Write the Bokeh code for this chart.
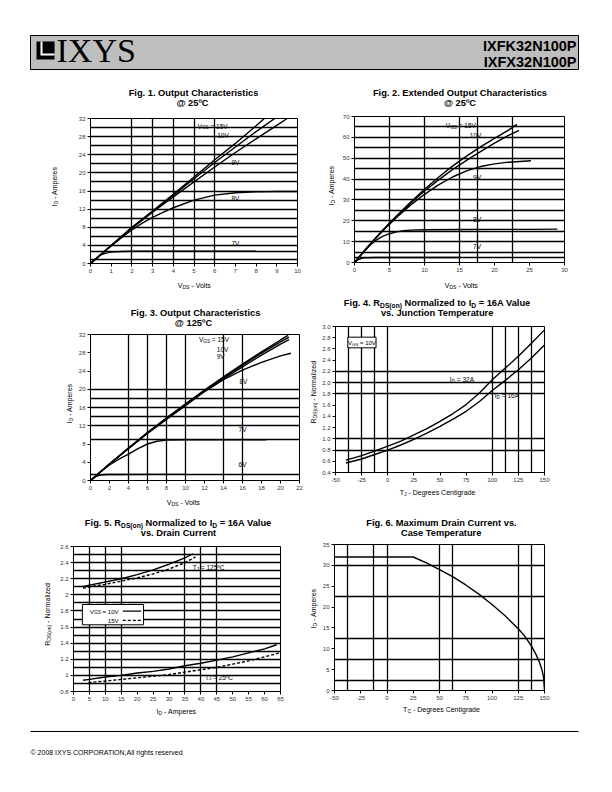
import math
from bokeh.plotting import figure
from bokeh.layouts import column, row
from bokeh.models import Range1d, FixedTicker, Label, BoxAnnotation
from bokeh.embed import file_html
from bokeh.resources import INLINE

FONT = "Liberation Sans"
SERIF = "Liberation Serif"

# ---------------- DATA ----------------
# Fig. 1  Output characteristics @ 25C
F1_X_TICKS = [0, 1, 2, 3, 4, 5, 6, 7, 8, 9, 10]
F1_Y_TICKS = [0, 4, 8, 12, 16, 20, 24, 28, 32]
F1_GRID_X = [2, 3, 4, 5, 6]
F1_GRID_Y = [0.9, 2.7, 4, 6, 8, 10, 12, 14, 16, 18, 20, 22, 24, 26, 28, 30]
F1_VDS_15V = [0, 1, 2, 3, 4, 5, 6, 7, 8, 8.4]
F1_ID_15V = [0, 4.0, 8.0, 11.6, 15.3, 19.1, 22.9, 26.5, 30.4, 32]
F1_VDS_10V = [0, 1, 2, 3, 4, 5, 6, 7, 8, 8.9]
F1_ID_10V = [0, 3.95, 7.9, 11.5, 15.1, 18.7, 22.3, 25.7, 29.1, 32]
F1_VDS_9V = [0, 1, 2, 3, 4, 5, 6, 7, 8, 9, 9.5]
F1_ID_9V = [0, 3.9, 7.8, 11.3, 14.7, 18.0, 21.3, 24.5, 27.5, 30.5, 32]
F1_VDS_8V = [0, 0.5, 1, 1.5, 2, 2.5, 3, 3.5, 4, 5, 6, 7, 8, 9, 10]
F1_ID_8V = [0, 2.0, 3.9, 5.7, 7.4, 8.9, 10.2, 11.3, 12.3, 14.0, 15.1, 15.6, 15.8, 15.9, 15.9]
F1_VDS_7V = [0, 0.25, 0.5, 0.75, 1, 1.5, 2, 3, 4, 6, 8]
F1_ID_7V = [0, 1.1, 1.9, 2.3, 2.5, 2.65, 2.7, 2.7, 2.7, 2.7, 2.7]

# Fig. 2  Extended output characteristics @ 25C
F2_X_TICKS = [0, 5, 10, 15, 20, 25, 30]
F2_Y_TICKS = [0, 10, 20, 30, 40, 50, 60, 70]
F2_GRID_X = [5, 10, 15, 17.5, 22.5]
F2_GRID_Y = [2.5, 5, 10, 15, 20, 25, 30, 35, 40, 45, 50, 55, 60, 65]
F2_VDS_15V = [0, 1, 2, 3, 4, 5, 6, 8, 10, 12, 14, 16, 18, 20, 22, 23.2]
F2_ID_15V = [0, 4.0, 7.9, 11.7, 15.3, 18.9, 22.3, 28.9, 35.1, 40.9, 46.2, 51.0, 55.4, 59.5, 63.5, 66.2]
F2_VDS_10V = [0, 1, 2, 3, 4, 5, 6, 8, 10, 12, 14, 16, 18, 20, 22, 23.5]
F2_ID_10V = [0, 4.0, 7.9, 11.6, 15.2, 18.7, 22.0, 28.4, 34.3, 39.6, 44.5, 49.0, 53.2, 57.2, 61.0, 63.3]
F2_VDS_9V = [0, 1, 2, 3, 4, 5, 6, 8, 10, 12, 14, 16, 18, 20, 22, 25.2]
F2_ID_9V = [0, 3.9, 7.8, 11.5, 15.0, 18.4, 21.6, 27.5, 32.7, 37.2, 41.0, 43.9, 46.0, 47.3, 48.1, 48.8]
F2_VDS_8V = [0, 1, 2, 2.5, 3, 4, 5, 6, 7, 8, 10, 15, 20, 25, 29]
F2_ID_8V = [0, 3.9, 7.5, 9.1, 10.5, 12.5, 13.8, 14.7, 15.2, 15.5, 15.7, 15.8, 15.9, 15.9, 16.0]
F2_VDS_7V = [0, 0.5, 1, 1.5, 2, 3, 5, 10, 15.2]
F2_ID_7V = [0, 1.3, 2.0, 2.2, 2.3, 2.4, 2.4, 2.4, 2.4]

# Fig. 3  Output characteristics @ 125C
F3_X_TICKS = [0, 2, 4, 6, 8, 10, 12, 14, 16, 18, 20, 22]
F3_Y_TICKS = [0, 4, 8, 12, 16, 20, 24, 28, 32]
F3_GRID_X = [4, 6, 8, 10, 14, 16]
F3_GRID_Y = [1.3, 8.9, 12, 14, 16, 18, 20]
F3_VDS_15V = [0, 2, 4, 6, 8, 10, 12, 14, 16, 18, 20, 20.8]
F3_ID_15V = [0, 3.6, 7.1, 10.5, 13.7, 16.8, 19.8, 22.7, 25.5, 28.2, 30.8, 31.8]
F3_VDS_10V = [0, 2, 4, 6, 8, 10, 12, 14, 16, 18, 20, 20.9]
F3_ID_10V = [0, 3.6, 7.1, 10.5, 13.7, 16.7, 19.7, 22.5, 25.3, 27.9, 30.4, 31.4]
F3_VDS_9V = [0, 2, 4, 6, 8, 10, 12, 14, 16, 18, 20, 20.9]
F3_ID_9V = [0, 3.6, 7.0, 10.4, 13.6, 16.6, 19.5, 22.3, 24.9, 27.5, 29.9, 30.9]
F3_VDS_8V = [0, 2, 4, 6, 8, 10, 12, 14, 16, 18, 20, 21.1]
F3_ID_8V = [0, 3.6, 7.0, 10.3, 13.4, 16.4, 19.5, 22.1, 24.2, 25.9, 27.3, 27.9]
F3_VDS_7V = [0, 1, 2, 3, 4, 5, 6, 7, 8, 10, 14, 18.5]
F3_ID_7V = [0, 1.8, 3.4, 4.7, 5.8, 7.0, 8.0, 8.6, 8.85, 8.9, 8.9, 8.9]
F3_VDS_6V = [0, 0.5, 1, 1.7, 3, 6, 10]
F3_ID_6V = [0, 0.8, 1.2, 1.3, 1.33, 1.35, 1.35]

# Fig. 4  RDS(on) normalized vs junction temperature
F4_X_TICKS = [-50, -25, 0, 25, 50, 75, 100, 125, 150]
F4_Y_TICKS = [0.4, 0.6, 0.8, 1.0, 1.2, 1.4, 1.6, 1.8, 2.0, 2.2, 2.4, 2.6, 2.8, 3.0]
F4_Y_LABELS = ["0.4", "0.6", "0.8", "1.0", "1.2", "1.4", "1.6", "1.8", "2.0", "2.2", "2.4", "2.6", "2.8", "3.0"]
F4_GRID_X = [-37.5, -25, -12.5, 0, 100, 112.5, 125, 137.5]
F4_GRID_Y = [0.8, 1.0, 1.8, 2.0, 2.2]
F4_TJ = [-40, -25, -12.5, 0, 12.5, 25, 37.5, 50, 62.5, 75, 87.5, 100, 112.5, 125, 137.5, 150]
F4_R_32A = [0.62, 0.70, 0.78, 0.87, 0.96, 1.07, 1.18, 1.31, 1.45, 1.61, 1.81, 2.05, 2.26, 2.47, 2.70, 2.94]
F4_R_16A = [0.57, 0.64, 0.72, 0.80, 0.89, 0.99, 1.10, 1.22, 1.35, 1.49, 1.66, 1.86, 2.04, 2.23, 2.44, 2.67]

# Fig. 5  RDS(on) normalized vs drain current
F5_X_TICKS = [0, 5, 10, 15, 20, 25, 30, 35, 40, 45, 50, 55, 60, 65]
F5_Y_TICKS = [0.8, 1.0, 1.2, 1.4, 1.6, 1.8, 2.0, 2.2, 2.4, 2.6]
F5_Y_LABELS = ["0.8", "1", "1.2", "1.4", "1.6", "1.8", "2", "2.2", "2.4", "2.6"]
F5_GRID_X = [5, 10, 15, 35, 40, 45]
F5_GRID_Y = [0.9, 1.0, 1.1, 1.2, 1.3, 1.4, 1.5, 1.6, 1.7, 1.8, 1.9, 2.0, 2.1, 2.2, 2.3, 2.4, 2.5]
F5_ID_125_10V = [3, 5, 10, 15, 20, 25, 30, 35, 37.5]
F5_R_125_10V = [2.10, 2.12, 2.16, 2.20, 2.25, 2.31, 2.38, 2.46, 2.51]
F5_ID_125_15V = [3, 5, 10, 15, 20, 25, 30, 35, 38.3]
F5_R_125_15V = [2.08, 2.10, 2.13, 2.17, 2.21, 2.26, 2.32, 2.40, 2.47]
F5_ID_25_10V = [3, 5, 10, 15, 20, 25, 30, 35, 40, 45, 50, 55, 60, 63.8]
F5_R_25_10V = [0.94, 0.95, 0.98, 1.00, 1.03, 1.05, 1.08, 1.12, 1.15, 1.19, 1.23, 1.28, 1.33, 1.38]
F5_ID_25_15V = [4.7, 10, 15, 20, 25, 30, 35, 40, 45, 50, 55, 60, 64.8]
F5_R_25_15V = [0.91, 0.93, 0.95, 0.97, 0.99, 1.01, 1.04, 1.07, 1.10, 1.14, 1.18, 1.23, 1.28]

# Fig. 6  Maximum drain current vs case temperature
F6_X_TICKS = [-50, -25, 0, 25, 50, 75, 100, 125, 150]
F6_Y_TICKS = [0, 5, 10, 15, 20, 25, 30, 35]
F6_GRID_X = [-37.5, -12.5, 0, 50, 62.5, 125, 137.5]
F6_GRID_Y = [2.5, 7.5, 12.5, 22.5, 30]
F6_TC = [-50, 25, 37.5, 50, 62.5, 75, 87.5, 100, 112.5, 125, 131, 137.5, 142, 145, 147.5, 149, 150]
F6_ID = [32, 32, 30.6, 29.0, 27.3, 25.3, 23.1, 20.6, 17.9, 14.8, 13.1, 10.7, 8.6, 6.9, 5.0, 3.4, 0]

# ---------------- TEXT HELPERS ----------------
_REG = {' ': 278, '!': 278, '(': 333, ')': 333, '-': 333, '.': 278, ',': 278, '=': 584, '@': 1015,
        '\u00a9': 737, '\u00ba': 365, 'A': 667, 'B': 667, 'C': 722, 'D': 722, 'E': 667, 'F': 611,
        'G': 778, 'H': 722, 'I': 278, 'J': 500, 'K': 667, 'L': 556, 'M': 833, 'N': 722, 'O': 778,
        'P': 667, 'R': 722, 'S': 667, 'T': 611, 'U': 722, 'V': 667, 'X': 667, 'Y': 667,
        'a': 556, 'b': 556, 'c': 500, 'd': 556, 'e': 556, 'f': 278, 'g': 556, 'h': 556, 'i': 222,
        'j': 222, 'k': 500, 'l': 222, 'm': 833, 'n': 556, 'o': 556, 'p': 556, 'r': 333, 's': 500,
        't': 278, 'u': 556, 'v': 500, 'x': 500, 'y': 500, 'z': 500}
_BOLD = {' ': 278, '(': 333, ')': 333, '-': 333, '.': 278, ',': 278, '=': 584, '@': 975, '\u00ba': 365,
         'A': 722, 'C': 722, 'D': 722, 'E': 667, 'F': 611, 'I': 278, 'J': 556, 'K': 722, 'M': 833,
         'N': 722, 'O': 778, 'P': 667, 'R': 722, 'S': 667, 'T': 611, 'V': 667, 'X': 667,
         'a': 556, 'b': 611, 'c': 556, 'd': 611, 'e': 556, 'f': 333, 'g': 611, 'h': 611, 'i': 278,
         'l': 278, 'm': 889, 'n': 611, 'o': 611, 'p': 611, 'r': 389, 's': 556, 't': 333, 'u': 611,
         'v': 556, 'x': 556, 'y': 556, 'z': 500}
SUB = 0.72


def tw(s, size, bold):
    tab = _BOLD if bold else _REG
    return sum(tab.get(c, 556) for c in s) * size / 1000.0


def rich(p, x, y, ox, oy, segs, fs, bold=False, align="center", angle=0.0, bg=None, color="black"):
    """Text run with subscripts; (x, y) + pixel offsets (ox, oy) is the visual centre of the run."""
    sizes = [fs * SUB if s else fs for _, s in segs]
    ws = [tw(t, sz, bold) for (t, _), sz in zip(segs, sizes)]
    total = sum(ws)
    pos = {"center": -total / 2.0, "left": 0.0, "right": -total}[align]
    pieces = []
    for (t, s), sz, w in zip(segs, sizes, ws):
        lead = len(t) - len(t.lstrip(" "))
        start = pos + tw(" " * lead, sz, bold)
        drop = 0.25 * fs if s else 0.0
        if angle == 0:
            dx, dy = start, -drop
        else:
            dx, dy = drop, start
        pieces.append((t.strip(" "), sz, ox + dx, oy + dy))
        pos += w
    common = dict(x=x, y=y, angle=angle, text_font=FONT, text_font_style="bold" if bold else "normal",
                  text_align="left", text_baseline="alphabetic")
    if bg:
        for t, sz, dx, dy in pieces:
            p.add_layout(Label(text=t, text_font_size=f"{sz:.2f}px", x_offset=dx, y_offset=dy,
                               text_alpha=0.0, background_fill_color=bg, padding=2, **common))
    for t, sz, dx, dy in pieces:
        p.add_layout(Label(text=t, text_font_size=f"{sz:.2f}px", x_offset=dx, y_offset=dy,
                           text_color=color, **common))


def textfig(x0, y0, w, h):
    """Blank panel whose data coordinates are page pixels (y downwards)."""
    f = figure(width=int(w), height=int(h), x_range=Range1d(x0, x0 + w), y_range=Range1d(y0 + h, y0),
               output_backend="svg", toolbar_location=None, min_border=0,
               x_axis_type=None, y_axis_type=None)
    f.outline_line_color = None
    f.background_fill_color = "white"
    f.border_fill_color = "white"
    return f


def cell(x0, y0, W, H, fr, ls, bs, tp, xr, yr, xt, xl, yt, yl, gx, gy):
    fl, ft, fw, fh = fr
    tfig = textfig(x0, y0, W, ft - tp - y0)
    yfig = textfig(x0, ft - tp, fl - ls - x0, tp + fh + bs)
    p = figure(width=W - (fl - ls - x0), height=tp + fh + bs, x_range=Range1d(*xr), y_range=Range1d(*yr),
               output_backend="svg", toolbar_location=None,
               min_border_left=ls, min_border_right=x0 + W - (fl + fw), min_border_top=tp,
               min_border_bottom=bs)
    p.outline_line_color = "black"
    p.outline_line_width = 1
    p.background_fill_color = "white"
    p.border_fill_color = "white"
    for ax, ticks, labs in ((p.xaxis[0], xt, xl), (p.yaxis[0], yt, yl)):
        ax.ticker = FixedTicker(ticks=list(ticks))
        ax.major_label_overrides = {float(k): str(s) for k, s in zip(ticks, labs)}
        ax.major_label_text_font = FONT
        ax.major_label_text_font_size = "6px"
        ax.major_label_text_color = "#333333"
        ax.axis_line_color = "black"
        ax.major_tick_line_color = "black"
        ax.major_tick_in = 0
        ax.major_tick_out = 3
        ax.minor_tick_line_color = None
        ax.major_label_standoff = 2
    p.xgrid[0].ticker = FixedTicker(ticks=list(gx))
    p.ygrid[0].ticker = FixedTicker(ticks=list(gy))
    for g in (p.xgrid[0], p.ygrid[0]):
        g.grid_line_color = "black"
        g.grid_line_width = 1.3
    xfig = textfig(x0, ft + fh + bs, W, y0 + H - (ft + fh + bs))
    lay = column(tfig, row(yfig, p), xfig)
    return p, tfig, yfig, xfig, lay


def curve(p, xs, ys, dash="solid"):
    p.line(xs, ys, line_color="black", line_width=1.4, line_dash=dash)


ID_LBL = [("I", 0), ("D", 1), (" - Amperes", 0)]
VDS_LBL = [("V", 0), ("DS", 1), (" - Volts", 0)]
RDS_LBL = [("R", 0), ("DS(on)", 1), (" - Normalized", 0)]
TJ_LBL = [("T", 0), ("J", 1), (" - Degrees Centigrade", 0)]
TC_LBL = [("T", 0), ("C", 1), (" - Degrees Centigrade", 0)]
VGS15 = [("V", 0), ("GS", 1), (" = 15V", 0)]
VGS10 = [("V", 0), ("GS", 1), (" = 10V", 0)]
TFS = 9.3
LFS = 7.0
IFS = 6.5
PI2 = math.pi / 2

# ---------------- FIG 1 ----------------
p1, t1, y1, x1, c1 = cell(8, 78, 298, 217, (89, 118, 208, 145), 14, 13, 4, (0, 10), (0, 32),
                          F1_X_TICKS, F1_X_TICKS, F1_Y_TICKS, F1_Y_TICKS, F1_GRID_X, F1_GRID_Y)
for xs, ys in ((F1_VDS_15V, F1_ID_15V), (F1_VDS_10V, F1_ID_10V), (F1_VDS_9V, F1_ID_9V),
               (F1_VDS_8V, F1_ID_8V), (F1_VDS_7V, F1_ID_7V)):
    curve(p1, xs, ys)
for segs, x, y in ((VGS15, 5.9, 30), ([("10V", 0)], 6.4, 28), ([("9V", 0)], 7.0, 22),
                   ([("8V", 0)], 7.0, 14), ([("7V", 0)], 7.0, 4)):
    rich(p1, x, y, 0, 1.5, segs, IFS, bg="white")
rich(t1, 193, 92.7, 0, 0, [("Fig. 1. Output Characteristics", 0)], TFS, bold=True)
rich(t1, 192, 102.7, 0, 0, [("@ 25\u00baC", 0)], TFS, bold=True)
rich(x1, 194, 285, 0, 0, VDS_LBL, LFS)
rich(y1, 54, 190, 0, 0, ID_LBL, LFS, angle=PI2)

# ---------------- FIG 2 ----------------
p2, t2, y2, x2, c2 = cell(306, 78, 298, 217, (354, 116, 210, 146), 17, 13, 4, (0, 30), (0, 70),
                          F2_X_TICKS, F2_X_TICKS, F2_Y_TICKS, F2_Y_TICKS, F2_GRID_X, F2_GRID_Y)
for xs, ys in ((F2_VDS_15V, F2_ID_15V), (F2_VDS_10V, F2_ID_10V), (F2_VDS_9V, F2_ID_9V),
               (F2_VDS_8V, F2_ID_8V), (F2_VDS_7V, F2_ID_7V)):
    curve(p2, xs, ys)
for segs, x, y in ((VGS15, 15.2, 65), ([("10V", 0)], 17.3, 60), ([("9V", 0)], 17.5, 40),
                   ([("8V", 0)], 17.5, 20), ([("7V", 0)], 17.5, 7)):
    rich(p2, x, y, 0, 1.5, segs, IFS, bg="white")
rich(t2, 459.5, 92.7, 0, 0, [("Fig. 2. Extended Output Characteristics", 0)], TFS, bold=True)
rich(t2, 459.5, 102.7, 0, 0, [("@ 25\u00baC", 0)], TFS, bold=True)
rich(x2, 461, 285, 0, 0, VDS_LBL, LFS)
rich(y2, 331, 189, 0, 0, ID_LBL, LFS, angle=PI2)

# ---------------- FIG 3 ----------------
p3, t3, y3, x3, c3 = cell(8, 295, 298, 215, (89, 334, 210, 146), 14, 13, 4, (0, 22), (0, 32),
                          F3_X_TICKS, F3_X_TICKS, F3_Y_TICKS, F3_Y_TICKS, F3_GRID_X, F3_GRID_Y)
for xs, ys in ((F3_VDS_15V, F3_ID_15V), (F3_VDS_10V, F3_ID_10V), (F3_VDS_9V, F3_ID_9V),
               (F3_VDS_8V, F3_ID_8V), (F3_VDS_7V, F3_ID_7V), (F3_VDS_6V, F3_ID_6V)):
    curve(p3, xs, ys)
for segs, x, y in ((VGS15, 13.0, 30.9), ([("10V", 0)], 13.9, 28.7), ([("9V", 0)], 13.7, 27.2),
                   ([("8V", 0)], 16.1, 21.7), ([("7V", 0)], 16.0, 11.1), ([("6V", 0)], 16.0, 3.5)):
    rich(p3, x, y, 0, 0, segs, IFS, bg="white")
rich(t3, 195, 312.2, 0, 0, [("Fig. 3. Output Characteristics", 0)], TFS, bold=True)
rich(t3, 193, 322.2, 0, 0, [("@ 125\u00baC", 0)], TFS, bold=True)
rich(x3, 183, 501.5, 0, 0, VDS_LBL, LFS)
rich(y3, 69, 407, 0, 0, ID_LBL, LFS, angle=PI2)

# ---------------- FIG 4 ----------------
p4, t4, y4, x4, c4 = cell(306, 295, 298, 215, (334, 326, 210, 146), 15, 13, 3, (-50, 150), (0.4, 3.0),
                          F4_X_TICKS, F4_X_TICKS, F4_Y_TICKS, F4_Y_LABELS, F4_GRID_X, F4_GRID_Y)
curve(p4, F4_TJ, F4_R_32A)
curve(p4, F4_TJ, F4_R_16A)
rich(p4, 71, 2.0, 0, 3, [("I", 0), ("D", 1), (" = 32A", 0)], IFS, bg="white")
rich(p4, 114, 1.8, 0, -2, [("I", 0), ("D", 1), (" = 16A", 0)], IFS, bg="white")
p4.add_layout(BoxAnnotation(left=-38.2, right=-11.2, top=2.81, bottom=2.62, fill_color="white",
                            fill_alpha=1.0, line_color="black", line_width=1, line_alpha=1.0))
rich(p4, -24.7, 2.715, 0, 0, VGS10, 6.0)
rich(t4, 437, 302.2, 0, 0,
     [("Fig. 4. R", 0), ("DS(on)", 1), (" Normalized to I", 0), ("D", 1), (" = 16A Value", 0)],
     TFS, bold=True)
rich(t4, 437, 312.7, 0, 0, [("vs. Junction Temperature", 0)], TFS, bold=True)
rich(x4, 437, 492, 0, 0, TJ_LBL, LFS)
rich(y4, 313, 396, 0, 0, RDS_LBL, LFS, angle=PI2)

# ---------------- FIG 5 ----------------
p5, t5, y5, x5, c5 = cell(8, 510, 298, 210, (72, 546, 208, 145), 15, 13, 4, (0, 65), (0.8, 2.6),
                          F5_X_TICKS, F5_X_TICKS, F5_Y_TICKS, F5_Y_LABELS, F5_GRID_X, F5_GRID_Y)
curve(p5, F5_ID_125_10V, F5_R_125_10V)
curve(p5, F5_ID_125_15V, F5_R_125_15V, "3 2")
curve(p5, F5_ID_25_10V, F5_R_25_10V)
curve(p5, F5_ID_25_15V, F5_R_25_15V, "3 2")
leg = dict(left=2.8, right=22.0, top=1.88, bottom=1.628)
p5.add_layout(BoxAnnotation(fill_color="white", fill_alpha=1.0, line_color="black", line_width=1,
                            line_alpha=1.0, level="underlay", **leg))
row_y = [leg["top"] - 0.33 * (leg["top"] - leg["bottom"]), leg["top"] - 0.78 * (leg["top"] - leg["bottom"])]
sx0 = leg["left"] + 0.66 * (leg["right"] - leg["left"])
sx1 = leg["left"] + 0.96 * (leg["right"] - leg["left"])
p5.segment(x0=[sx0], x1=[sx1], y0=[row_y[0]], y1=[row_y[0]], line_color="black", line_width=1.3)
p5.segment(x0=[sx0], x1=[sx1], y0=[row_y[1]], y1=[row_y[1]], line_color="black", line_width=1.3,
           line_dash="3 2")
rich(p5, sx0, row_y[0], -4, 0, VGS10, 6.2, align="right")
rich(p5, sx0, row_y[1], -4, 0, [("15V", 0)], 6.2, align="right")
rich(p5, 42.4, 2.34, 0, 0, [("T", 0), ("J", 1), (" = 125\u00baC", 0)], IFS, bg="white")
rich(p5, 45.7, 0.98, 0, 0, [("T", 0), ("J", 1), (" = 25\u00baC", 0)], IFS, bg="white")
rich(t5, 178, 522.2, 0, 0,
     [("Fig. 5. R", 0), ("DS(on)", 1), (" Normalized to I", 0), ("D", 1), (" = 16A Value", 0)],
     TFS, bold=True)
rich(t5, 178, 532.7, 0, 0, [("vs. Drain Current", 0)], TFS, bold=True)
rich(x5, 176, 711, 0, 0, ID_LBL, LFS)
rich(y5, 47, 618, 0, 0, RDS_LBL, LFS, angle=PI2)

# ---------------- FIG 6 ----------------
p6, t6, y6, x6, c6 = cell(306, 510, 298, 210, (334, 544, 210, 146), 15, 13, 3, (-50, 150), (0, 35),
                          F6_X_TICKS, F6_X_TICKS, F6_Y_TICKS, F6_Y_TICKS, F6_GRID_X, F6_GRID_Y)
curve(p6, F6_TC, F6_ID)
rich(t6, 441, 522.2, 0, 0, [("Fig. 6. Maximum Drain Current vs.", 0)], TFS, bold=True)
rich(t6, 441, 532.5, 0, 0, [("Case Temperature", 0)], TFS, bold=True)
rich(x6, 441, 709, 0, 0, TC_LBL, LFS)
rich(y6, 313, 612, 0, 0, ID_LBL, LFS, angle=PI2)

# ---------------- HEADER / FOOTER ----------------
hdr = textfig(8, 8, 596, 70)
hdr.quad(left=[30], right=[578], top=[35], bottom=[69], fill_color="#bebebe", line_color="black",
         line_width=1)
hdr.quad(left=[36], right=[54], top=[41], bottom=[59], fill_color="black", line_color=None)
hdr.quad(left=[40], right=[54], top=[41], bottom=[55], fill_color="white", line_color=None)
hdr.quad(left=[42], right=[54], top=[41], bottom=[53], fill_color="black", line_color=None)
hdr.add_layout(Label(x=56, y=50, text="IXYS", text_font=SERIF, text_font_size="34px",
                     text_baseline="alphabetic", text_align="left", text_color="black"))
hdr.add_layout(Label(x=576, y=45, text="IXFK32N100P", text_font=FONT, text_font_size="14.5px",
                     text_font_style="bold", text_baseline="alphabetic", text_align="right",
                     text_color="black"))
hdr.add_layout(Label(x=576, y=61, text="IXFX32N100P", text_font=FONT, text_font_size="14.5px",
                     text_font_style="bold", text_baseline="alphabetic", text_align="right",
                     text_color="black"))

ftr = textfig(8, 720, 596, 62)
ftr.segment(x0=[30], x1=[578], y0=[731], y1=[731], line_color="black", line_width=1)
ftr.add_layout(Label(x=30, y=752, text="\u00a9 2008 IXYS CORPORATION,All rights reserved",
                     text_font=FONT, text_font_size="7px", text_baseline="alphabetic",
                     text_align="left", text_color="black"))

layout = column(hdr, row(c1, c2), row(c3, c4), row(c5, c6), ftr)
layout.margin = (8, 0, 0, 8)
open("out.html", "w").write(file_html(layout, INLINE))
